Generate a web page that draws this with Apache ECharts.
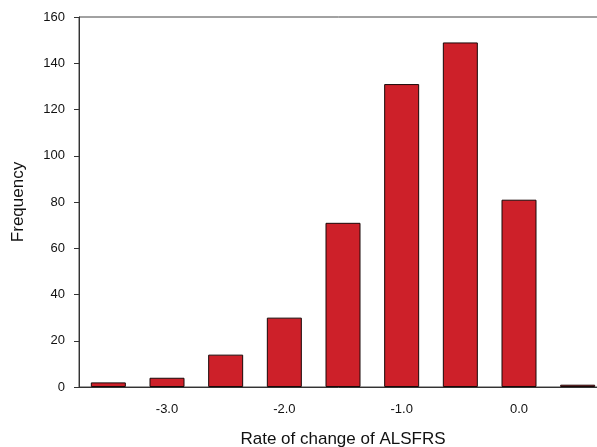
<!DOCTYPE html>
<html>
<head>
<meta charset="utf-8">
<script src="https://cdn.jsdelivr.net/npm/echarts@6/dist/echarts.min.js"></script>
<style>
  html, body { margin: 0; padding: 0; background: #fff; }
  #chart { width: 597px; height: 447px; }
</style>
</head>
<body>
<div id="chart"></div>
<script>
// bin centres (rate of change of ALSFRS) and counts
var bins = ['-3.5', '-3.0', '-2.5', '-2.0', '-1.5', '-1.0', '-0.5', '0.0', '0.5'];
var counts = [2, 4, 14, 30, 71, 131, 149, 81, 1];
var labelled = ['-3.0', '-2.0', '-1.0', '0.0'];
var yTicks = [0, 20, 40, 60, 80, 100, 120, 140, 160];

var chart = echarts.init(document.getElementById('chart'));

var showIdx = function (i, v) { return labelled.indexOf(v) >= 0; };

var option = {
    animation: false,
    textStyle: { fontFamily: 'Liberation Sans, Arial, sans-serif' },
    grid: {
        left: 79,
        top: 17,
        width: 528,
        height: 370,
        outerBoundsMode: 'none',
        containLabel: false,
        show: true,
        borderColor: '#444',
        borderWidth: 1
    },
    xAxis: {
        type: 'category',
        data: bins,
        name: 'Rate of change of ALSFRS',
        nameLocation: 'middle',
        nameGap: 44,
        nameTextStyle: { fontSize: 17, color: '#111' },
        axisLine: { lineStyle: { color: '#333', width: 1 } },
        axisTick: {
            alignWithLabel: true,
            interval: showIdx,
            length: 5,
            lineStyle: { color: '#333' }
        },
        axisLabel: {
            interval: showIdx,
            margin: 16,
            fontSize: 13,
            color: '#111'
        }
    },
    yAxis: {
        type: 'value',
        min: yTicks[0],
        max: yTicks[yTicks.length - 1],
        interval: 20,
        name: 'Frequency',
        nameLocation: 'middle',
        nameGap: 52,
        nameTextStyle: { fontSize: 17, color: '#111' },
        axisLine: { show: true, lineStyle: { color: '#333', width: 1 } },
        axisTick: { show: true, length: 5, lineStyle: { color: '#333' } },
        axisLabel: { margin: 14, fontSize: 13, color: '#111' },
        splitLine: { show: false }
    },
    series: [{
        type: 'bar',
        data: counts,
        barWidth: 35,
        itemStyle: {
            color: '#cd2029',
            borderColor: '#1a0808',
            borderWidth: 1
        }
    }]
};

chart.setOption(option);
</script>
</body>
</html>
